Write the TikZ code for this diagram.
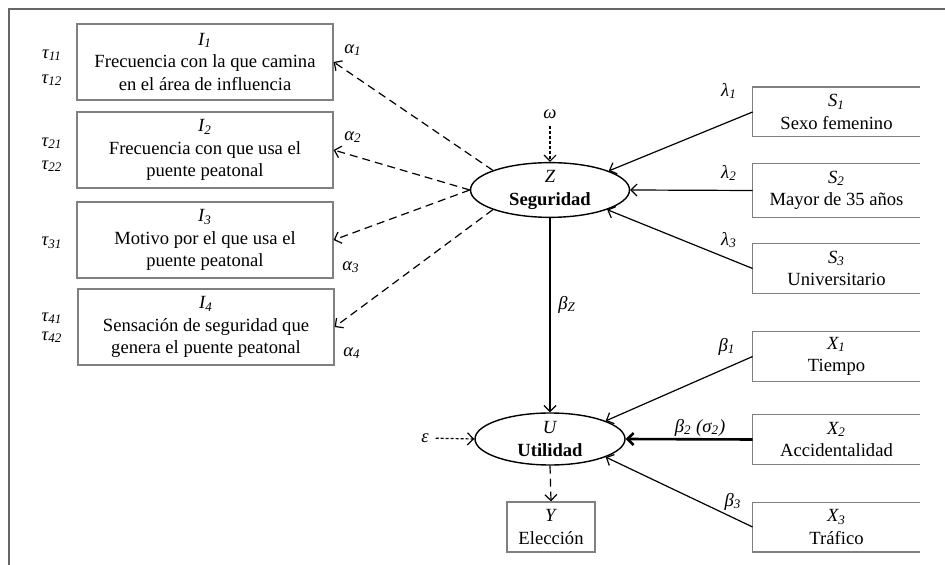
\documentclass[tikz,border=0pt]{standalone}
\usepackage{fontspec}
\setmainfont{Liberation Serif}
\usetikzlibrary{shapes.geometric,arrows.meta}
\newcommand{\vsub}[2]{\textit{#1\textsubscript{#2}}}

\begin{document}
\begin{tikzpicture}[x=0.5pt, y=-0.5pt,
		font=\fontsize{9.3}{11.2}\selectfont,
		ibox/.style={draw=black!50, line width=0.6pt, minimum width=128pt, minimum height=38pt, align=center, inner sep=1pt},
		sbox/.style={minimum width=83.5pt, minimum height=24.5pt, align=center, inner sep=1pt},
		sline/.style={draw=black!50, line width=0.6pt},
		latent/.style={draw, ellipse, line width=0.7pt, minimum width=79.5pt, minimum height=26.5pt, inner sep=0pt, align=center},
		arr/.style={line width=0.6pt, -{Straight Barb[length=3pt, width=6pt]}},
		dasharr/.style={arr, dash pattern=on 4pt off 2.5pt},
		dotarr/.style={arr, dash pattern=on 1.5pt off 1pt}]
		\useasboundingbox (0, 0) rectangle (945, 565);
		\draw[black!60, line width=1pt] (945, 9) -- (9, 9) -- (9, 565);
		% indicadores
		\node[ibox] (i1) at (205, 62) {\vsub{I}{1}\\Frecuencia con la que camina\\en el área de influencia};
		\node[ibox] (i2) at (205, 150) {\vsub{I}{2}\\Frecuencia con que usa el\\puente peatonal};
		\node[ibox] (i3) at (205, 240) {\vsub{I}{3}\\Motivo por el que usa el\\puente peatonal};
		\node[ibox] (i4) at (206, 327) {\vsub{I}{4}\\Sensación de seguridad que\\genera el puente peatonal};
		\node (t11) at (52, 55) {\vsub{τ}{11}};
		\node (t12) at (52, 80) {\vsub{τ}{12}};
		\node (t21) at (52, 143) {\vsub{τ}{21}};
		\node (t22) at (52, 166) {\vsub{τ}{22}};
		\node (t31) at (52, 243) {\vsub{τ}{31}};
		\node (t41) at (52, 318) {\vsub{τ}{41}};
		\node (t42) at (52, 337) {\vsub{τ}{42}};
		\node (a1) at (353, 50) {\vsub{α}{1}};
		\node (a2) at (353, 137) {\vsub{α}{2}};
		\node (a3) at (351, 267) {\vsub{α}{3}};
		\node (a4) at (352, 353) {\vsub{α}{4}};
		% variables latentes
		\node[latent] (z) at (550, 190) {\textit{Z}\\\textbf{Seguridad}};
		\node[latent, minimum width=75pt, minimum height=26pt] (u) at (550, 439) {\textit{U}\\\textbf{Utilidad}};
		\node[ibox, minimum width=44pt, minimum height=25pt] (y) at (551, 527) {\textit{Y}\\Elección};
		\node (w) at (550, 114) {\textit{ω}};
		\node (eps) at (425, 438) {\textit{ε}};
		\node (bz) at (567, 305) {\vsub{β}{Z}};
		% variables explicativas
		\node[sbox] (s1) at (836.5, 112) {\vsub{S}{1}\\Sexo femenino};
		\node[sbox, minimum height=26.5pt] (s2) at (836.5, 190.5) {\vsub{S}{2}\\Mayor de 35 años};
		\node[sbox] (s3) at (836.5, 268.5) {\vsub{S}{3}\\Universitario};
		\node[sbox] (x1) at (836.5, 356.5) {\vsub{X}{1}\\Tiempo};
		\node[sbox] (x2) at (836.5, 439.5) {\vsub{X}{2}\\Accidentalidad};
		\node[sbox] (x3) at (836.5, 527) {\vsub{X}{3}\\Tráfico};
		\foreach \n in {s1, s2, s3, x1, x2, x3}
			\draw[sline] (\n.north east) -- (\n.north west) -- (\n.south west) -- (\n.south east);
		\node (l1) at (729, 91) {\vsub{λ}{1}};
		\node (l2) at (729, 173) {\vsub{λ}{2}};
		\node (l3) at (729, 240) {\vsub{λ}{3}};
		\node (b1) at (727, 347) {\vsub{β}{1}};
		\node (b2) at (700, 428) {\textit{β\textsubscript{2} (σ\textsubscript{2})}};
		\node (b3) at (733, 502) {\vsub{β}{3}};
		% conexiones
		\draw[dasharr] (z.161) -- (i1.east);
		\draw[dasharr] (z.west) -- (i2.east);
		\draw[dasharr] (z.west) -- (i3.east);
		\draw[dasharr] (z.199) -- (i4.east);
		\draw[arr] (s1.west) -- (z.18);
		\draw[arr] (s2.west) -- (z.east);
		\draw[arr] (s3.west) -- (z.341);
		\draw[dotarr] (w) -- (z.north);
		\draw[arr] (z.south) -- (u.north);
		\draw[arr] (x1.west) -- (u.18);
		\draw[arr, line width=1.3pt] (x2.west) -- (u.east);
		\draw[arr] (x3.west) -- (u.342);
		\draw[dotarr] (eps) -- (u.west);
		\draw[dasharr] (u.south) -- (y.north);
	\end{tikzpicture}
\end{document}
